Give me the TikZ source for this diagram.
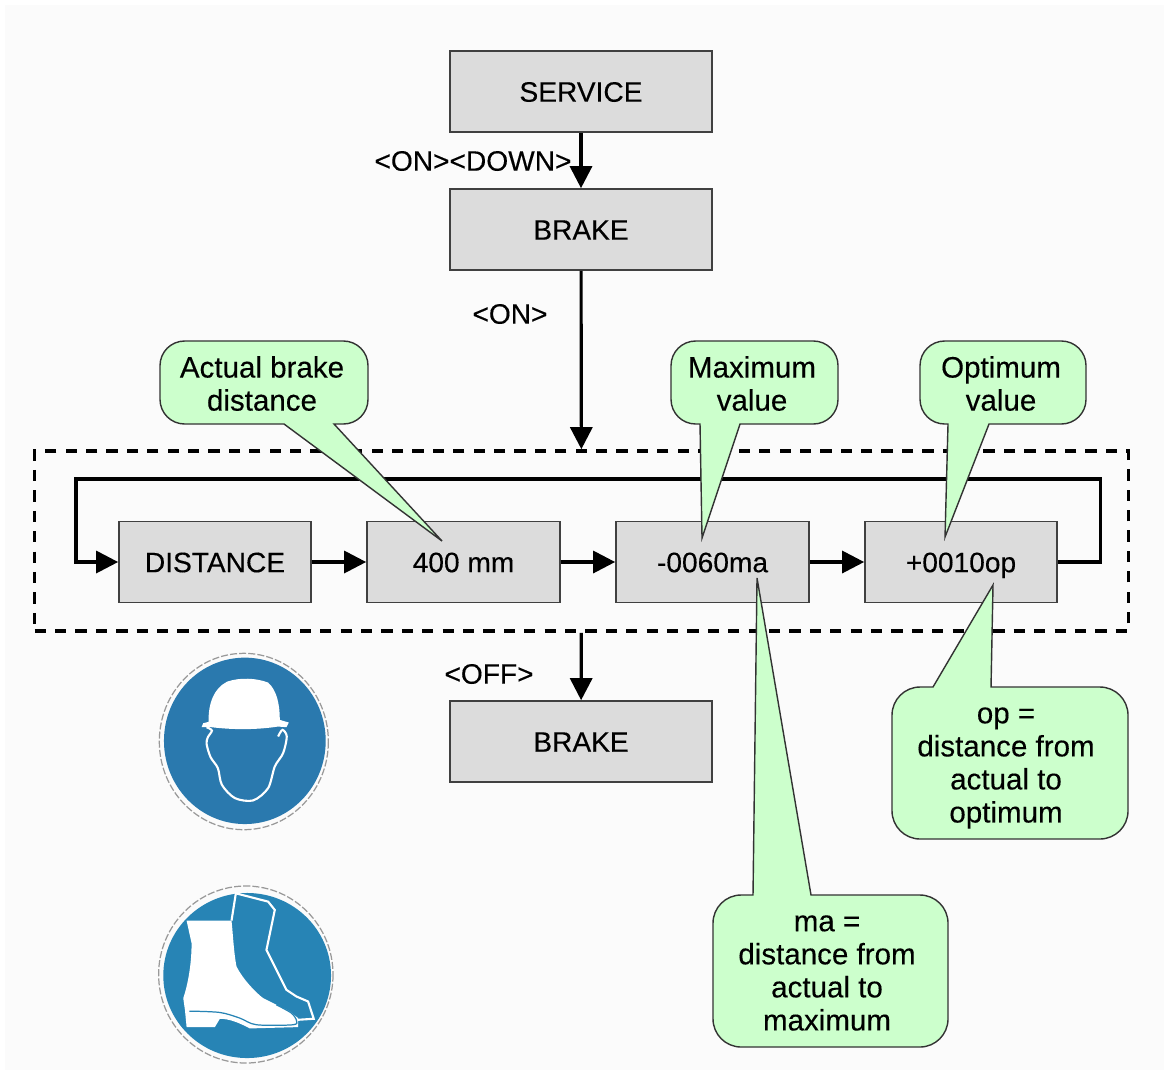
\documentclass[tikz,border=0pt]{standalone}
\usepackage{fontspec}
\setmainfont{Liberation Sans}[FakeBold=0.25]
\usetikzlibrary{arrows.meta}
\definecolor{boxgrey}{HTML}{DCDCDC}
\definecolor{notegreen}{HTML}{CCFFCC}
\definecolor{signblue}{HTML}{2A79AE}
\definecolor{pagegrey}{HTML}{FBFBFB}
\tikzset{
  menubox/.style={draw=black!75,line width=0.45pt,fill=boxgrey,minimum height=0.81cm,inner sep=0pt,text height=5.8pt,text depth=0pt},
  flowline/.style={-{Triangle[length=2.2mm,width=2.2mm]},line width=0.9pt},
  keylabel/.style={font=\fontsize{8}{10}\selectfont,inner sep=0pt},
  notetext/.style={font=\fontsize{8.4}{9.4}\selectfont,align=center,inner sep=0pt},
  noteshape/.style={draw=black!80,line width=0.4pt,fill=notegreen},
  signring/.style={draw=black!40,line width=0.35pt,dash pattern=on 2pt off 0.6pt},
}
\begin{document}
\begin{tikzpicture}[x=0.01cm,y=-0.01cm]
\useasboundingbox (0,0) rectangle (1168,1073);
\fill[white] (0,0) rectangle (1168,1073);
\fill[pagegrey] (5,5) rectangle (1164,1070);

% menu boxes
\node[menubox,minimum width=2.62cm,keylabel] (service) at (581,91.5) {SERVICE};
\node[menubox,minimum width=2.62cm,keylabel] (brake) at (581,229.5) {BRAKE};
\node[menubox,minimum width=2.62cm,keylabel] (brakeoff) at (581,741.5) {BRAKE};
\node[draw,line width=1pt,minimum width=10.93cm,minimum height=1.80cm,inner sep=0pt,dash pattern=on 3.2pt off 2.6pt] (menu) at (581.5,541) {};
\node[menubox,minimum width=1.92cm,keylabel] (distance) at (215,562) {DISTANCE};
\node[menubox,minimum width=1.93cm,keylabel] (actual) at (463.5,562) {400 mm};
\node[menubox,minimum width=1.93cm,keylabel] (maximum) at (712.5,562) {-0060ma};
\node[menubox,minimum width=1.92cm,keylabel] (optimum) at (961,562) {+0010op};

% connectors
\draw[flowline] (service) -- (brake);
\draw[flowline] (brake) -- (menu);
\draw[flowline] (menu) -- (brakeoff);
\draw[flowline] (distance) -- (actual);
\draw[flowline] (actual) -- (maximum);
\draw[flowline] (maximum) -- (optimum);
\draw[flowline] (optimum.east) -- ++(43,0) |- (76,479) |- (distance.west);

\node[keylabel] (ondown) at (473,161) {<ON><DOWN>};
\node[keylabel] (onkey) at (510,314) {<ON>};
\node[keylabel] (offkey) at (489,674) {<OFF>};

% notes
\draw[noteshape,rounded corners=7pt] (284,424) -- (160,424) -- (160,341) -- (368,341) -- (368,424) [sharp corners] -- (334,424) -- (442,541) -- cycle;
\draw[noteshape,rounded corners=7pt] (700,424) -- (671,424) -- (671,341) -- (838,341) -- (838,424) [sharp corners] -- (740,424) -- (702,538) -- cycle;
\draw[noteshape,rounded corners=7pt] (948,424) -- (920,424) -- (920,341) -- (1086,341) -- (1086,424) [sharp corners] -- (989,424) -- (945,537) -- cycle;
\draw[noteshape,rounded corners=8pt] (933,687) -- (892,687) -- (892,839) -- (1128,839) -- (1128,687) [sharp corners] -- (991,687) -- (993,585) -- cycle;
\draw[noteshape,rounded corners=8pt] (753,895) -- (713,895) -- (713,1047) -- (948,1047) -- (948,895) [sharp corners] -- (811,895) -- (757,578) -- cycle;
\node[notetext] (notebrake) at (262,383.5) {Actual brake\\distance};
\node[notetext] (notemax) at (752,383.5) {Maximum\\value};
\node[notetext] (noteopt) at (1001,383.5) {Optimum\\value};
\node[notetext] (noteop) at (1006,768) {op =\\distance from\\actual to\\optimum};
\node[notetext] (notema) at (827,973) {ma =\\distance from\\actual to\\maximum};

% helmet sign
\begin{scope}[shift={(140,640)},x=0.00333cm,y=-0.00333cm]
\fill[signblue] (315,303) ellipse (243 and 250);
\draw[signring] (312,305) ellipse (254 and 265);
\fill[white] (185,262) -- (190,250) -- (206,246) .. controls (205,190) and (222,145) .. (262,125) .. controls (300,112) and (350,114) .. (385,128) .. controls (410,150) and (420,190) .. (420,240) -- (447,248) -- (440,262) -- (415,260) .. controls (350,270) and (280,270) .. (215,262) -- cycle;
\draw[white,line width=0.6pt] plot[smooth] coordinates {(200,262) (216,272) (204,292) (200,312) (212,352) (234,385) (246,435) (285,475) (340,482) (385,445) (405,380) (430,340) (441,290) (428,270) (415,290)};
\end{scope}

% boot sign
\begin{scope}[shift={(140,870)},x=0.00333cm,y=-0.00333cm]
\fill[signblue!92!cyan] (322,317) ellipse (252 and 248);
\draw[signring] (318,314) ellipse (262 and 266);
\fill[white] (140,152) -- (275,152) .. controls (280,200) and (282,250) .. (290,290) .. controls (310,330) and (350,370) .. (370,385) -- (410,405) -- (450,425) -- (475,445) -- (475,472) -- (330,476) .. controls (300,460) and (270,447) .. (240,447) -- (225,472) -- (140,472) -- (135,420) -- (130,385) .. controls (145,340) and (155,280) .. (155,220) -- cycle;
\draw[signblue!92!cyan,line width=0.35pt] plot[smooth] coordinates {(148,424) (240,428) (300,445) (350,465) (460,465) (470,452) (455,430) (410,405)};
\draw[white,line width=0.6pt] (275,152) -- (288,70) -- (385,95) -- (405,120) -- (380,240) -- (440,360) -- (470,380) -- (505,395) -- (522,447) -- (475,450);
\end{scope}
\end{tikzpicture}
\end{document}
